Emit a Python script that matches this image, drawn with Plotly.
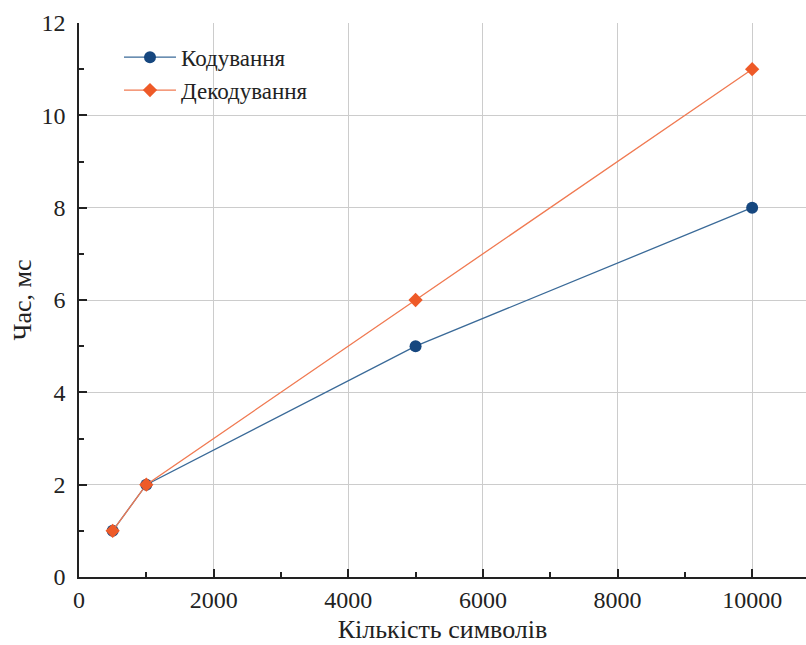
import plotly.graph_objects as go

symbols = [500, 1000, 5000, 10000]
encode_ms = [1, 2, 5, 8]
decode_ms = [1, 2, 6, 11]
x_ticks = [0, 2000, 4000, 6000, 8000, 10000]
x_tick_text = ["0", "2000", "4000", "6000", "8000", "10000"]
y_ticks = [0, 2, 4, 6, 8, 10, 12]

fig = go.Figure()
fig.add_trace(go.Scatter(
    x=symbols, y=encode_ms, name="Кодування", mode="lines+markers",
    line=dict(color="#3a6a98", width=1.3),
    marker=dict(color="#16477f", size=12, symbol="circle"),
))
fig.add_trace(go.Scatter(
    x=symbols, y=decode_ms, name="Декодування", mode="lines+markers",
    line=dict(color="#f07a52", width=1.3),
    marker=dict(color="#ee5a28", size=11, symbol="diamond"),
))

font_family = "Times New Roman, Liberation Serif, Times, serif"
fig.update_layout(
    width=806, height=645,
    margin=dict(l=79, r=0, t=23, b=68),
    paper_bgcolor="white", plot_bgcolor="white",
    font=dict(family=font_family, color="#222222", size=24),
    showlegend=True,
    legend=dict(x=0.055, y=0.977, xanchor="left", yanchor="top",
                bgcolor="rgba(255,255,255,0)", font=dict(size=23, family=font_family, color="#222"),
                itemwidth=52),
)
fig.update_xaxes(
    range=[0, 10800], tickvals=x_ticks, ticktext=x_tick_text, automargin=False,
    ticks="inside", ticklen=8, tickwidth=1.5, tickcolor="#222",
    showline=True, linecolor="#222", linewidth=1.5,
    showgrid=True, gridcolor="#cccccc", gridwidth=1, zeroline=False,
    minor=dict(ticks="inside", ticklen=5, tickwidth=1.5, tickcolor="#222", dtick=1000, tick0=0, showgrid=False),
    title=dict(text="Кількість символів", font=dict(size=26, family=font_family), standoff=8),
    tickfont=dict(size=24, family=font_family),
)
fig.update_yaxes(
    range=[0, 12], tickvals=y_ticks, automargin=False,
    ticks="inside", ticklen=8, tickwidth=1.5, tickcolor="#222",
    showline=True, linecolor="#222", linewidth=1.5,
    showgrid=True, gridcolor="#cccccc", gridwidth=1, zeroline=False,
    minor=dict(ticks="inside", ticklen=5, tickwidth=1.5, tickcolor="#222", dtick=1, tick0=0, showgrid=False),
    title=dict(text="Час, мс", font=dict(size=26, family=font_family), standoff=2),
    tickfont=dict(size=24, family=font_family),
    ticklabelstandoff=7,
)

fig.write_html("out.html", config={"displayModeBar": False},
               post_script="document.body.style.margin='0';document.body.style.overflow='hidden';")
